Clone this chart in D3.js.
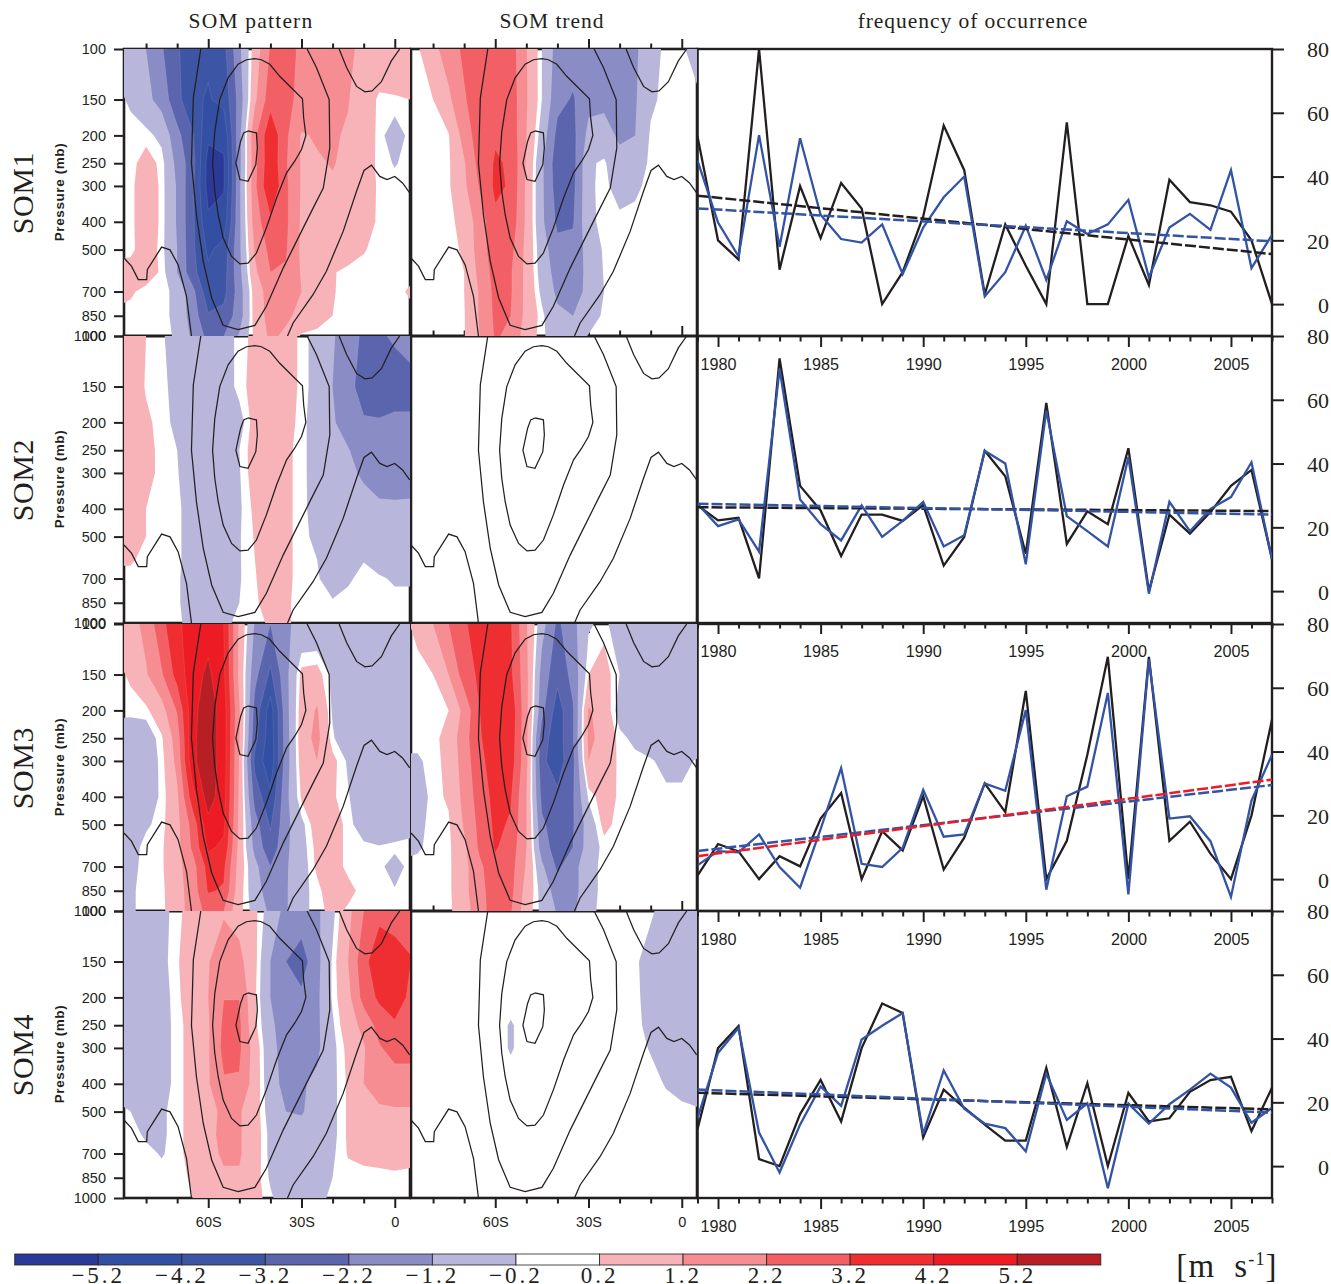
<!DOCTYPE html>
<html><head><meta charset="utf-8">
<script src="https://cdn.jsdelivr.net/npm/d3@7"></script>
<style>html,body{margin:0;padding:0;background:#fff}svg{display:block}
.sans{font-family:"Liberation Sans",Arial,sans-serif}.serif{font-family:"Liberation Serif",serif}</style>
</head><body><div id="c"></div>
<script>
const latGrid=d3.range(-90,10,5);
const levels=[100,150,200,250,300,400,500,600,700,850,1000];
const pressureTicks=[100,150,200,250,300,400,500,700,850,1000];
const years=d3.range(1979,2008);
const rowNames=["SOM1","SOM2","SOM3","SOM4"];
const colTitles=["SOM pattern","SOM trend","frequency of occurrence"];
const bandEdges=[0.2,1.2,2.2,3.2,4.2,5.2];
const redColors=["#f7b3b7","#f68d92","#f25f64","#ee2e30","#ed1c24","#b71f24"];
const blueColors=["#b8b6da","#8a8cc5","#5b65ae","#3d55a5","#324fa3","#2b3a98"];
const barLabels=["\u22125.2","\u22124.2","\u22123.2","\u22122.2","\u22121.2","\u22120.2","0.2","1.2","2.2","3.2","4.2","5.2"];

// anomaly fields: rows = levels, columns = latGrid
const som1Pattern=[
[-.5,-.9,-1.2,-2.1,-3.1,-3.7,-4.0,-3.5,-1.4,.6,2.3,2.4,2.1,1.9,1.6,1.35,1.0,.8,.7,.7],
[0,-.3,-.9,-1.6,-2.9,-4,-4.3,-3.9,-1.8,1.0,2.8,2.4,2.0,1.8,1.6,1.25,.6,.1,.15,.2],
[0,0,0,-.4,-1.9,-3.1,-5,-5,-1.5,2.0,4.0,2.4,1.1,1.3,1.3,1.1,.8,0,-.6,0],
[.1,0,.5,.05,-1.5,-2.8,-5.6,-5.3,-1.5,1.9,4.0,2.3,1.1,1.1,1.25,1.0,.6,.05,-.25,0],
[0,0,.8,.05,-1.3,-3,-5.6,-5.3,-1.4,2,4.2,2.4,1.1,1.1,1.1,.95,.6,.1,0,0],
[0,0,.8,.05,-1.3,-3,-5,-4.8,-1.4,1.7,3.0,2.4,1.05,1,.9,.8,.5,.1,0,0],
[0,0,.7,0,-1.2,-3,-4.4,-3.8,-1.4,1.3,2.5,2.3,1.0,.85,.7,.55,.25,0,0,0],
[.5,.6,.6,.1,-1.2,-2.9,-4,-3.6,-1.5,1,2.2,2.1,1.1,.7,.25,.05,0,0,0,0],
[.6,.3,0,0,-.4,-1.9,-3.9,-3.5,-1.7,.6,1.7,1.6,1.2,.7,.25,0,0,0,0,.3],
[0,0,0,0,-.4,-1.7,-3.1,-2.9,-1.7,.55,1.6,1.4,.9,.55,.2,0,0,0,0,0],
[0,0,0,0,-.3,-1.4,-2.5,-2.2,-1.1,.4,1.4,1.0,.1,0,0,0,0,0,0,0]];
const som2Pattern=[
[.7,.6,.2,-.1,-.6,-.7,-.7,-.6,0,.35,.8,.6,.05,-.5,-1.1,-1.7,-2.4,-2.4,-2.0,-1.4],
[.7,.6,.15,0,-.5,-.7,-.7,-.6,0,.45,.8,.6,.05,-.5,-1.2,-1.9,-2.6,-2.9,-2.9,-2.9],
[.7,.65,.3,.05,-.4,-.7,-.7,-.7,-.5,.5,.8,.5,0,-.6,-1.1,-1.6,-2.1,-2.1,-1.9,-1.9],
[.7,.7,.4,.05,-.2,-.7,-.7,-.7,-.2,.55,.8,.35,0,-.6,-.9,-1.15,-1.6,-1.8,-1.8,-1.8],
[.7,.7,.4,.05,-.15,-.7,-.7,-.7,-.25,.55,.8,.35,0,-.6,-.85,-1.05,-1.3,-1.7,-1.8,-1.7],
[.7,.65,.2,0,-.05,-.6,-.7,-.7,-.3,.35,.8,.35,0,-.55,-.8,-.9,-.95,-1,-1,-1],
[.6,.5,.2,0,-.05,-.6,-.7,-.7,-.25,.25,.7,.35,0,-.4,-.7,-.7,-.8,-.8,-.8,-.8],
[.3,.3,0,0,-.05,-.6,-.7,-.7,-.25,.2,.65,.35,0,-.2,-.5,-.55,-.22,-.4,-.6,-.6],
[0,0,0,0,-.1,-.6,-.7,-.7,-.25,.15,.6,.35,0,-.15,-.45,-.25,-.1,-.15,-.25,-.25],
[0,0,0,0,-.1,-.6,-.7,-.7,-.2,.1,.5,.3,0,0,-.15,-.1,-.1,-.1,-.1,-.1],
[0,0,0,0,-.05,-.5,-.5,-.4,0,0,.3,.3,0,0,0,0,0,0,0,0]];
const som3Pattern=[
[.5,.8,1.5,2.9,4,4.7,4.8,4.2,1.0,-1.3,-2.2,-1.3,-1,-1,-1,-.9,-.8,-.7,-.7,-.7],
[0,.3,1.1,2.1,3.6,4.8,5.4,4.4,.9,-1.9,-3.4,-1.5,.4,.5,-.4,-.9,-.9,-.9,-.9,-.9],
[0,0,.05,.8,2.3,4.9,5.8,4.7,1.3,-2.6,-4.7,-1.6,.6,1.3,-.3,-1,-1,-1,-1,-1],
[-.7,-.8,-.7,.1,1.7,5,5.8,4.7,1.2,-2.9,-4.8,-1.7,.7,1.5,-.1,-.9,-1,-1,-1,-1],
[-.7,-.7,-.7,-.05,1.5,5,5.8,4.7,1.1,-3.5,-4.9,-1.7,.6,1.2,.4,-.3,-.8,-.8,-.8,-.8],
[-.7,-.7,-.6,-.1,1.0,3.8,5.7,4.6,1.0,-2.6,-4.0,-1.5,.3,.8,.3,-.15,-.7,-.8,-.8,-.8],
[-.7,-.7,-.3,0,.9,2.6,4.9,4.4,.9,-1.8,-3.3,-1.5,-.4,.6,.6,0,-.6,-.8,-.7,-.5],
[-.7,-.5,0,.1,.9,2.4,4.4,4.0,.8,-1.5,-2.9,-1.4,-.5,.4,.5,.05,-.05,-.15,-.05,0],
[-.7,-.4,0,.1,.9,1.8,3.6,3.4,.7,-.9,-2.2,-1.3,-.6,.35,.5,.05,0,-.05,-.5,0],
[-.6,-.3,0,.05,.8,1.7,3.3,3.1,.5,-.7,-1.8,-1.3,-.4,0,.7,.4,0,-.1,-.15,0],
[-.6,-.3,0,.05,.7,1.7,2.5,2.2,.4,-.5,-1.4,-1.3,-.4,0,.4,.1,0,0,0,0]];
const som4Pattern=[
[-.8,-.9,-.9,-.4,0,.6,.9,1.1,.8,.35,-.6,-1.5,-1.6,-1.4,-.4,.9,2.2,2.9,2.9,2.9],
[-.8,-.9,-.9,-.4,.1,.9,1.15,1.7,1.5,.4,-1.2,-2.2,-2.7,-1.5,-.1,1.2,2.9,3.9,3.5,3.25],
[-.8,-.9,-.9,-.5,.05,.7,1.2,2.18,2.18,.3,-1.2,-1.9,-2.0,-1.4,-.1,.9,2.6,3.4,4,2.9],
[-.8,-.8,-.8,-.5,0,.5,1.1,2.4,2.4,.4,-1,-1.7,-1.8,-1.4,-.3,.7,1.5,2.6,3,3],
[-.8,-.8,-.8,-.5,0,.5,1.1,2.5,2.4,.7,-.9,-1.6,-1.7,-1.4,-.4,.4,1.1,2.1,2.6,2.6],
[-.5,-.5,-.7,-.5,0,.5,1.1,2.1,2.1,.7,-.8,-1.5,-1.3,-1,-.4,.3,1.2,1.6,1.7,1.7],
[0,-.2,-.6,-.3,0,.5,.9,1.4,1.3,.6,-.6,-1.2,-1.3,-.7,-.4,.3,.8,1.05,1.1,1.1],
[0,0,-.3,-.3,0,.5,1,1.4,1.3,.6,-.4,-.7,-.7,-.7,-.4,.3,.7,.8,.8,.8],
[0,0,-.05,-.25,0,.5,1,1.3,1.3,.6,-.4,-.7,-.7,-.7,-.3,.25,.4,.5,.7,.5],
[0,0,0,0,0,.3,.9,1.1,1.1,.5,-.3,-.7,-.7,-.7,-.2,0,0,0,0,0],
[0,0,0,0,0,.2,.8,.9,1,.5,-.1,-.6,-.6,-.5,0,0,0,0,0,0]];
const som1Trend=[
[0,.1,.9,1.7,2.4,2.8,2.9,2.7,1.25,-.2,-1.6,-1.7,-1.7,-1.7,-1.6,-1.35,-.6,0,-.05,-.7],
[0,0,.2,1.0,2.1,2.8,3,2.8,1.3,-.2,-1.9,-2.3,-1.5,-1.5,-1.4,-1.3,-.35,0,0,0],
[0,0,0,.15,1.6,2.8,3.1,2.9,1.2,-.6,-2.5,-2.5,-.9,-.7,-1.4,-1.2,-.1,0,0,0],
[0,0,0,.1,1.1,2.6,3.3,3.1,1.1,-1,-2.8,-2.6,-.3,-.1,-.8,-.7,-.05,0,0,0],
[0,0,0,.1,1.0,2.3,3.4,3.1,1.0,-1,-2.7,-2.5,-.35,0,-.6,-.35,0,0,0,0],
[0,0,0,0,.5,1.7,3,2.9,1,-1,-2.4,-2.3,-.4,0,0,0,0,0,0,0],
[0,0,0,0,.3,1.7,2.8,2.5,.9,-.7,-1.9,-1.9,-.8,-.1,0,0,0,0,0,0],
[0,0,0,0,.2,1.5,2.6,2.3,.9,-.6,-1.6,-1.8,-.9,-.15,0,0,0,0,0,0],
[0,0,0,0,.2,1.3,2.5,2.3,.9,-.4,-1.4,-1.7,-.9,-.2,0,0,0,0,0,0],
[0,0,0,0,.15,1.3,2.4,2.2,.9,-.05,-1,-1.2,-.7,-.05,0,0,0,0,0,0],
[0,0,0,0,.15,1.2,2.3,2.0,.7,-.05,-.7,-.7,-.15,0,0,0,0,0,0,0]];
const som2Trend=levels.map(()=>latGrid.map(()=>0));
const som3Trend=[
[0,.4,1.2,2.2,3.1,3.6,3.7,3.3,1.3,-.8,-2.4,-1.5,-.3,0,-.7,-1.1,-.9,-.9,-.9,-1],
[0,0,.2,1.2,2.7,3.4,3.8,3.4,1.5,-1.6,-2.9,-1.9,.2,.5,-.2,-1,-1,-1,-1,-1],
[0,0,0,.2,1.5,3.2,4,3.9,1.5,-1.9,-3.7,-2.3,1.3,.8,-.6,-1,-1,-1,-1,-1],
[0,0,0,.5,1.8,3.1,3.9,3.8,1.5,-2.8,-3.7,-2.3,1.4,.9,0,-.4,-.9,-1,-1,-1],
[-.3,-.3,0,.4,1.7,2.9,3.8,3.7,1.5,-3,-3.7,-2.5,1.2,1,0,0,-.1,-.5,-.5,-.1],
[-.5,-.6,0,.3,1.5,2.7,3.5,3.3,1.2,-2.5,-3,-2.3,-.1,.55,.1,0,0,0,0,0],
[-.6,-.4,0,.1,1.3,2.5,3.4,3.1,1.2,-2,-2.8,-2.3,-.7,.4,0,0,0,0,0,0],
[-.5,-.3,0,.05,1.0,2.4,3.3,2.8,1.2,-1.7,-2.7,-2.2,-.7,0,0,0,0,0,0,0],
[0,0,0,.05,.9,2.0,2.9,2.6,1.1,-1,-2.4,-1.6,-.5,0,0,0,0,0,0,0],
[0,0,0,.05,.9,1.9,2.7,2.5,.8,-.5,-1.7,-1.6,-.5,0,0,0,0,0,0,0],
[0,0,0,.05,.7,1.9,2.6,2.3,.6,-.4,-1.3,-1.4,-.4,0,0,0,0,0,0,0]];
const som4Trend=[
[0,0,0,0,0,0,0,0,0,0,0,0,0,0,0,0,-.1,-.5,-.7,-.7],
[0,0,0,0,0,0,0,0,0,0,0,0,0,0,0,-.1,-.5,-.8,-.8,-.8],
[0,0,0,0,0,0,0,0,0,0,0,0,0,0,0,-.05,-.5,-.8,-.8,-.8],
[0,0,0,0,0,0,0,-.25,0,0,0,0,0,0,0,0,-.45,-.7,-.8,-.8],
[0,0,0,0,0,0,0,-.25,0,0,0,0,0,0,0,0,-.25,-.5,-.7,-.7],
[0,0,0,0,0,0,0,0,0,0,0,0,0,0,0,0,0,-.25,-.45,-.45],
[0,0,0,0,0,0,0,0,0,0,0,0,0,0,0,0,0,0,-.05,-.15],
[0,0,0,0,0,0,0,0,0,0,0,0,0,0,0,0,0,0,0,0],
[0,0,0,0,0,0,0,0,0,0,0,0,0,0,0,0,0,0,0,0],
[0,0,0,0,0,0,0,0,0,0,0,0,0,0,0,0,0,0,0,0],
[0,0,0,0,0,0,0,0,0,0,0,0,0,0,0,0,0,0,0,0]];

// climatological wind contours, [latitude, pressure]
const jetInner=[[-47.2,193],[-44.5,196],[-44.2,221],[-44.7,253],[-47.2,289],[-49.8,285],[-51.1,250],[-49.6,210],[-48.6,196],[-47.2,193]];
const jetMiddle=[[-45,108],[-42.9,109],[-40.2,113],[-37,124.5],[-29.7,149],[-29.3,174],[-28.6,200],[-30,224],[-32.2,246],[-34.8,270],[-38,330],[-41.3,420],[-44.5,514],[-47.2,557],[-49.8,561],[-52.5,528],[-55.2,456],[-56.8,378],[-57.9,313],[-58.6,250],[-57.9,194],[-56.3,150],[-53.6,126],[-50.4,113],[-47.7,109],[-45,108]];
const jetOuter=[[-62.4,100],[-64.8,148],[-65.4,250],[-63.8,378],[-61.6,550],[-58.9,737],[-55.2,918],[-50.4,950],[-45,918],[-41.3,788],[-35.9,580],[-32.7,494],[-26.8,368],[-23,305],[-20.9,221],[-21.1,150],[-25.2,116],[-28.2,100]];
const zeroLeft=[[-87.1,535],[-84.7,571],[-82.5,636],[-79.8,636],[-79.6,587],[-75,490],[-72.3,501],[-69.7,564],[-67,727],[-65.4,1000]];
const zeroRight=[[-34.5,1000],[-32.7,901],[-26.3,718],[-22,595],[-16.6,432],[-12.3,313],[-9.9,265],[-7.5,254],[-4.8,278],[-2.5,285],[0,278],[2.5,293],[4.8,317]];
const zeroTop=[[-17.9,100],[-15.5,116],[-12.3,135],[-9.6,141],[-7.3,140],[-4.3,130],[-1.1,110],[1.6,100]];

// frequency series
const f1Black=[52.6,20,14,80,10.8,37,20.7,38,30,0,10,27.5,56,42,3,25,12,0,57,0,0,21.4,6,39,32,31,29,20,0];
const f1Blue=[45,25.6,15,53,18,52,28,20.4,19.3,25,9.4,24,33.5,40,2.4,10,24.6,7.6,26,22,25,32.7,8.4,24,28.3,23.3,42,11.3,21.7];
const f2Black=[26.9,22.2,23,4,73,33,25.3,11,24,24,22,27,8,17,44,36,11.7,59,14.8,25,21,44.8,0,24,18,24.8,33,38,10];
const f2Blue=[27.4,20.4,22.5,12.4,69.7,28.7,21,15.9,26.9,17,22,28,14,17.5,44,40,8.4,56.6,23.5,18.8,14,42,-.8,28,18.8,25.8,29.5,40.4,10];
const f3Black=[1.1,11,8.7,0,7.2,4,19,27,0,15,9,26,3,13,30,21,59,0,12,39,69.7,0,69.7,12,18,8,0,20,50];
const f3Blue=[4.3,8.8,8.4,14,3.8,-2.7,15.7,34.8,4.8,3.8,9.8,28,13.3,14,30,27.7,53,-3.3,26,29,58.4,-4.8,68.9,19,19.7,11.9,-5.6,24.6,39];
const f4Black=[11.6,37,43.9,2.2,0,16.3,27,14,37,51,48,9,24,18.3,13,8,8,30.8,6,26,0,23,14,15,23.3,27,28,11,24.6];
const f4Blue=[15,35.5,43.3,10.5,-2,13,25,18.9,39.7,44,48,10,30,18,13.3,11.9,4.6,29,14.5,19.7,-6.9,19.6,13.3,19.4,24,29,24.6,13.6,18.3];
// trend end values [1979, 2007]
const trendBlack=[[34,15.7],[26.3,25.1],null,[23,17.8]];
const trendRed=[null,null,[7.2,31.2],null];
const trendBlue=[[30,19.7],[27.4,24],[8.8,29.5],[24,16.8]];

const patternFields=[som1Pattern,som2Pattern,som3Pattern,som4Pattern];
const trendFields=[som1Trend,som2Trend,som3Trend,som4Trend];
const blackSeries=[f1Black,f2Black,f3Black,f4Black];
const blueSeries=[f1Blue,f2Blue,f3Blue,f4Blue];
const jetLines=[jetInner,jetMiddle,jetOuter,zeroLeft,zeroRight,zeroTop];

const ink="#231f20", W=1331, H=1284;
const rowTops=[49,336,624,911], rowH=287;
const cols=[[124,410],[411,697]], freqX=[697.5,1272];
const svg=d3.select("#c").append("svg").attr("width",W).attr("height",H).attr("viewBox",`0 0 ${W} ${H}`);
const defs=svg.append("defs");
const latDomain=[-87.1,4.9];
const gridLat=d3.scaleLinear().domain([0,latGrid.length-1]).range([latGrid[0],latGrid[latGrid.length-1]]);
const contourGen=d3.contours().size([latGrid.length,levels.length]).thresholds(bandEdges);
const axisStyle=g=>{g.selectAll("path,line").attr("stroke",ink).attr("stroke-width",2);g.select(".domain").remove();};

function drawField(g,field,x,y){
  const gridY=d3.scaleLinear().domain(levels.map((_,i)=>i)).range(levels.map(p=>y(p)));
  const path=d3.geoPath(d3.geoTransform({point(gx,gy){this.stream.point(x(gridLat(gx-.5)),gridY(gy-.5));}}));
  const pos=field.flat(), neg=pos.map(v=>-v);
  [[pos,redColors],[neg,blueColors]].forEach(([vals,colors])=>{
    g.append("g").selectAll("path").data(contourGen(vals)).join("path")
      .attr("d",path).attr("fill",(d,i)=>colors[i])
      .attr("stroke",(d,i)=>i>=2?"#fff":"none").attr("stroke-opacity",.14).attr("stroke-width",.7);
  });
}
function clipFor(id,x0,y0,w,h){defs.append("clipPath").attr("id",id).append("rect").attr("x",x0).attr("y",y0).attr("width",w).attr("height",h);return `url(#${id})`;}

const overlay=svg.append("g"); // drawn last
rowTops.forEach((top,r)=>{
  const bottom=top+rowH;
  const y=d3.scaleLog().domain([100,1000]).range([top,bottom]);
  cols.forEach((cx,c)=>{
    const x=d3.scaleLinear().domain(latDomain).range(cx);
    const g=svg.append("g").attr("clip-path",clipFor(`p${r}${c}`,cx[0],top,cx[1]-cx[0],rowH));
    drawField(g,(c?trendFields:patternFields)[r],x,y);
    const ln=d3.line().x(d=>x(d[0])).y(d=>y(d[1]));
    g.selectAll("path.j").data(jetLines).join("path").attr("class","j").attr("d",ln)
      .attr("fill","none").attr("stroke",ink).attr("stroke-width",1.25);
    overlay.append("rect").attr("x",cx[0]).attr("y",top).attr("width",cx[1]-cx[0]).attr("height",rowH)
      .attr("fill","none").attr("stroke",ink).attr("stroke-width",2.6);
    const majorLat=[-60,-30,0], minorLat=[-80,-70,-50,-40,-20,-10];
    const topTicks=(vals,len)=>overlay.append("g").attr("transform",`translate(0,${top})`)
      .call(d3.axisTop(x).tickValues(vals).tickSize(len).tickFormat("")).call(axisStyle);
    if(r===0||c===1&&r!==2){topTicks(majorLat,10);topTicks(minorLat,5.5);}
    if(c===1&&r===2){overlay.append("g").attr("transform",`translate(0,${top})`)
      .call(d3.axisBottom(x).tickValues([-30]).tickSize(9).tickFormat("")).call(axisStyle);}
    if(r===3){
      overlay.append("g").attr("transform",`translate(0,${bottom})`)
        .call(d3.axisBottom(x).tickValues(minorLat).tickSize(5.5).tickFormat("")).call(axisStyle);
      const ax=overlay.append("g").attr("transform",`translate(0,${bottom})`)
        .call(d3.axisBottom(x).tickValues(majorLat).tickSize(10).tickPadding(8.5)
          .tickFormat(d=>d===0?"0":`${-d}S`)).call(axisStyle);
      ax.selectAll("text").attr("class","sans").attr("font-size",14.5).attr("fill",ink).attr("font-family",null);
    }
  });
  // pressure axis
  const py=overlay.append("g").attr("transform",`translate(124,0)`)
    .call(d3.axisLeft(y).tickValues(pressureTicks).tickSize(10).tickPadding(8).tickFormat(d3.format("d"))).call(axisStyle);
  py.selectAll("text").attr("class","sans").attr("font-size",14.5).attr("fill",ink).attr("font-family",null);
  overlay.append("text").attr("class","sans").attr("transform",`translate(64,${top+143}) rotate(-90)`)
    .attr("text-anchor","middle").attr("font-size",13.5).attr("font-weight","bold").attr("letter-spacing",.6).attr("fill",ink).text("Pressure (mb)");
  overlay.append("text").attr("class","serif").attr("transform",`translate(33,${top+144}) rotate(-90)`)
    .attr("text-anchor","middle").attr("font-size",30).attr("letter-spacing",.6).attr("fill",ink).text(rowNames[r]);

  // frequency panel
  const fx=d3.scaleLinear().domain([1979,2007]).range(freqX);
  const fy=d3.scaleLinear().domain([-10,80]).range([bottom,top]);
  const fg=svg.append("g").attr("clip-path",clipFor(`f${r}`,freqX[0],top,freqX[1]-freqX[0],rowH));
  const fl=d3.line().x((d,i)=>fx(years[i])).y(d=>fy(d));
  fg.append("path").attr("d",fl(blackSeries[r])).attr("fill","none").attr("stroke",ink).attr("stroke-width",2.3);
  fg.append("path").attr("d",fl(blueSeries[r])).attr("fill","none").attr("stroke","#3353a4").attr("stroke-width",2.3);
  const tl=d3.line().x((d,i)=>fx(i?2007:1979)).y(d=>fy(d));
  [[trendBlack[r],ink],[trendBlue[r],"#3353a4"],[trendRed[r],"#ed1c24"]].forEach(([t,col])=>{
    if(t) fg.append("path").attr("d",tl(t)).attr("fill","none").attr("stroke",col)
      .attr("stroke-width",2.5).attr("stroke-dasharray","11 3");
  });
  overlay.append("rect").attr("x",freqX[0]).attr("y",top).attr("width",freqX[1]-freqX[0]).attr("height",rowH)
    .attr("fill","none").attr("stroke",ink).attr("stroke-width",2.4);
  overlay.append("g").attr("transform",`translate(0,${bottom})`)
    .call(d3.axisBottom(fx).tickValues(years.filter(v=>v%5)).tickSize(5.5).tickFormat("")).call(axisStyle);
  const xa=overlay.append("g").attr("transform",`translate(0,${bottom})`)
    .call(d3.axisBottom(fx).tickValues(years.filter(v=>v%5===0)).tickSize(11).tickPadding(11).tickFormat(d3.format("d"))).call(axisStyle);
  xa.selectAll("text").attr("class","sans").attr("font-size",16.2).attr("fill",ink).attr("font-family",null);
  const ra=overlay.append("g").attr("transform",`translate(${freqX[1]},0)`)
    .call(d3.axisRight(fy).tickValues([0,20,40,60,80]).tickSize(12).tickFormat(d3.format("d"))).call(axisStyle);
  ra.selectAll("text").attr("class","serif").attr("font-size",22).attr("fill",ink).attr("font-family",null)
    .attr("text-anchor","end").attr("x",57).attr("dy",".36em");
});

// titles
const titleX=[251,552,973], titleSpacing=[1.2,1.0,.95];
colTitles.forEach((t,i)=>overlay.append("text").attr("class","serif").attr("x",titleX[i]).attr("y",28)
  .attr("text-anchor","middle").attr("font-size",21.5).attr("letter-spacing",titleSpacing[i]).attr("fill",ink).text(t));

// colour bar
const barColors=[...blueColors].reverse().concat(["#ffffff"],redColors);
const barX=d3.scaleLinear().domain([0,barColors.length]).range([14.7,1100.8]);
overlay.selectAll("rect.b").data(barColors).join("rect").attr("class","b")
  .attr("x",(d,i)=>barX(i)).attr("y",1254).attr("width",barX(1)-barX(0)).attr("height",11)
  .attr("fill",d=>d).attr("stroke",ink).attr("stroke-opacity",.8).attr("stroke-width",1);
overlay.selectAll("text.b").data(barLabels).join("text").attr("class","b serif")
  .attr("x",(d,i)=>barX(i+1)).attr("y",1282.5).attr("text-anchor","middle")
  .attr("font-size",23).attr("letter-spacing",3).attr("fill",ink).text(d=>d);
const unit=overlay.append("text").attr("class","serif").attr("x",1227).attr("y",1277).attr("text-anchor","middle")
  .attr("font-size",33).attr("fill",ink).attr("letter-spacing",1.2).attr("xml:space","preserve");
unit.append("tspan").text("[m  s");
unit.append("tspan").attr("font-size",18).attr("dy",-12).text("-1");
unit.append("tspan").attr("dy",12).text("]");
</script></body></html>
